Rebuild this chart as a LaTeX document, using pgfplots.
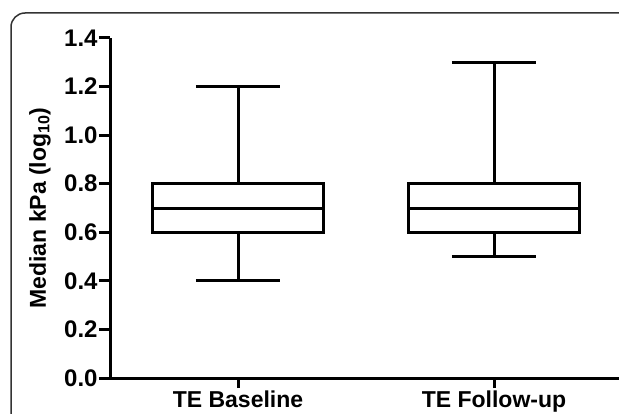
\documentclass[border=0pt]{standalone}
\usepackage{pgfplots}
\pgfplotsset{compat=1.18}
\usepgfplotslibrary{statistics}
\usepackage{fontspec}
\setmainfont{Liberation Sans}
\begin{document}
\begin{tikzpicture}[x=1pt,y=1pt]
\begin{scope}
\clip (0,0) rectangle (619,413);
\draw[line width=1.5pt, draw=black!80, rounded corners=14pt] (11,-60) rectangle (700,400);
\begin{axis}[
  at={(110pt,35pt)}, anchor=origin,
  scale only axis, width=512pt, height=340pt,
  xmin=0.5, xmax=2.5, ymin=0, ymax=1.4,
  axis x line=bottom, axis y line=left,
  axis line style={line width=3pt, -},
  xtick={1,2}, xticklabels={TE Baseline, TE Follow-up},
  ytick={0,0.2,0.4,0.6,0.8,1.0,1.2,1.4},
  yticklabel style={/pgf/number format/fixed, /pgf/number format/fixed zerofill, /pgf/number format/precision=1, /pgf/number format/assume math mode=true, font=\fontsize{24}{24}\selectfont\bfseries, inner sep=1pt, xshift=-7pt},
  xticklabel style={font=\fontsize{23}{24}\selectfont\bfseries, inner sep=2pt, yshift=-6pt},
  tick style={line width=3pt, black},
  tick align=outside,
  ytick style={/pgfplots/major tick length=11pt},
  xtick style={/pgfplots/major tick length=10pt},
  ylabel={Median kPa (log\textsubscript{10})},
  ylabel style={font=\fontsize{23}{24}\selectfont\bfseries, at={(axis description cs:-0.137,0.5)}, anchor=center},
  clip=false,
  boxplot/draw direction=y,
]
\addplot[boxplot prepared={draw position=1, median=0.7, upper quartile=0.8, lower quartile=0.6, upper whisker=1.2, lower whisker=0.4, box extend=0.67, whisker extend=0.33}, draw=black, fill=white, line width=3pt, solid, mark=none] coordinates {};
\addplot[boxplot prepared={draw position=2, median=0.7, upper quartile=0.8, lower quartile=0.6, upper whisker=1.3, lower whisker=0.5, box extend=0.67, whisker extend=0.33}, draw=black, fill=white, line width=3pt, solid, mark=none] coordinates {};
\end{axis}
\end{scope}
\pgfresetboundingbox
\useasboundingbox (0,0) rectangle (619,413);
\end{tikzpicture}
\end{document}
